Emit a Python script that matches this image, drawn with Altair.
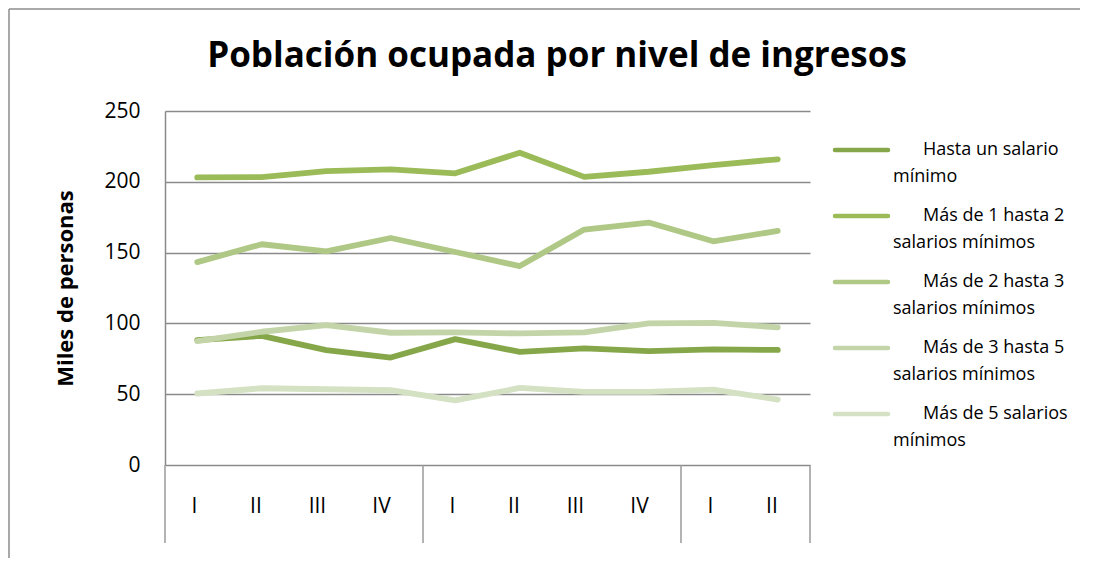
import altair as alt
import pandas as pd

# ---- data ----
quarters = ["I", "II", "III", "IV", "I", "II", "III", "IV", "I", "II"]
groups = [1, 1, 1, 1, 2, 2, 2, 2, 3, 3]

legend_line1 = ["Hasta un salario", "Más de 1 hasta 2", "Más de 2 hasta 3",
                "Más de 3 hasta 5", "Más de 5 salarios"]
legend_line2 = ["mínimo", "salarios mínimos", "salarios mínimos",
                "salarios mínimos", "mínimos"]
series = [a + " " + b for a, b in zip(legend_line1, legend_line2)]
colors = ["#86a749", "#9bbb59", "#afc886", "#c3d5a8", "#d4e1c3"]

hasta_1 = [88.2, 91.2, 81.1, 75.9, 88.9, 79.9, 82.3, 80.4, 81.6, 81.3]
de_1_a_2 = [203.1, 203.3, 207.6, 208.8, 206.0, 220.5, 203.5, 207.1, 211.8, 215.9]
de_2_a_3 = [143.3, 155.9, 150.9, 160.3, 150.4, 140.5, 166.3, 171.2, 158.0, 165.3]
de_3_a_5 = [87.5, 94.1, 98.8, 93.4, 93.6, 92.9, 93.6, 100.0, 100.4, 97.2]
mas_de_5 = [50.5, 54.2, 53.5, 52.8, 45.7, 54.4, 51.6, 51.6, 53.3, 46.2]
series_values = [hasta_1, de_1_a_2, de_2_a_3, de_3_a_5, mas_de_5]

title_text = "Población ocupada por nivel de ingresos"
y_title = "Miles de personas"
y_ticks = [0, 50, 100, 150, 200, 250]

# ---- tables ----
keys = [f"{g}-{q}" for g, q in zip(groups, quarters)]
rows = []
for s, vals in zip(series, series_values):
    for k, v in zip(keys, vals):
        rows.append({"key": k, "serie": s, "valor": v})
df = pd.DataFrame(rows)

leg = pd.DataFrame({"serie": series, "l1": legend_line1, "l2": legend_line2})

group_start = [keys[i] for i in range(len(keys)) if i == 0 or groups[i] != groups[i - 1]]
sep_start = pd.DataFrame({"key": group_start})
sep_end = pd.DataFrame({"key": [keys[-1]]})

FONT = "Open Sans"
W, H = 645, 354

xscale = alt.Scale(type="band", domain=keys, paddingInner=0, paddingOuter=0)
cscale = alt.Scale(domain=series, range=colors)
legy = alt.Scale(type="point", domain=series, range=[39, 303], padding=0)

lines = alt.Chart(df).mark_line(strokeWidth=5.8, strokeCap="round", strokeJoin="round").encode(
    x=alt.X("key:N", scale=xscale, bandPosition=0.5, sort=keys,
            axis=alt.Axis(title=None, labelExpr="split(datum.label, '-')[1]",
                          ticks=False, tickSize=0, domain=False, grid=False,
                          labelAngle=0, labelPadding=41, labelBaseline="middle",
                          labelFont=FONT, labelFontSize=21, labelColor="#000000")),
    y=alt.Y("valor:Q", scale=alt.Scale(domain=[0, 250], nice=False, zero=True),
            axis=alt.Axis(values=y_ticks, title=y_title, titleFont=FONT,
                          titleFontSize=22, titleFontWeight="bold", titleColor="#000000",
                          titleAngle=270, titleX=-100, titleY=177,
                          titleAlign="center", titleBaseline="middle",
                          ticks=False, tickSize=0, labelPadding=25,
                          labelFont=FONT, labelFontSize=21, labelColor="#000000",
                          domainColor="#8a8a8a", domainWidth=1.5,
                          gridColor="#8a8a8a", gridWidth=1.5, gridOpacity=1)),
    color=alt.Color("serie:N", scale=cscale, legend=None),
    detail="serie:N",
)

seps_a = alt.Chart(sep_start).mark_rule(color="#9a9a9a", strokeWidth=1.5).encode(
    x=alt.X("key:N", scale=xscale, bandPosition=0),
    y=alt.value(H), y2=alt.value(H + 78),
)
seps_b = alt.Chart(sep_end).mark_rule(color="#9a9a9a", strokeWidth=1.5).encode(
    x=alt.X("key:N", scale=xscale, bandPosition=1),
    y=alt.value(H), y2=alt.value(H + 78),
)

leg_sym = alt.Chart(leg).mark_rule(strokeWidth=4.5, strokeCap="round").encode(
    x=alt.value(670), x2=alt.value(723),
    y=alt.Y("serie:N", scale=legy, axis=None),
    color=alt.Color("serie:N", scale=cscale, legend=None),
)
leg_t1 = alt.Chart(leg).mark_text(align="left", baseline="middle", font=FONT,
                                  fontSize=18, color="#000000").encode(
    x=alt.value(758), y=alt.Y("serie:N", scale=legy, axis=None), text="l1:N")
leg_t2 = alt.Chart(leg).mark_text(align="left", baseline="middle", font=FONT,
                                  fontSize=18, color="#000000", dy=27).encode(
    x=alt.value(728), y=alt.Y("serie:N", scale=legy, axis=None), text="l2:N")

title = alt.Chart(pd.DataFrame({"t": [title_text]})).mark_text(
    align="center", baseline="alphabetic", font=FONT, fontSize=35,
    fontWeight="bold", color="#000000").encode(
    x=alt.value(392), y=alt.value(-44), text="t:N")

border_top = alt.Chart(pd.DataFrame({"a": [0]})).mark_rule(color="#8c8c8c", strokeWidth=1.5).encode(
    x=alt.value(-156), x2=alt.value(920), y=alt.value(-102))
border_left = alt.Chart(pd.DataFrame({"a": [0]})).mark_rule(color="#8c8c8c", strokeWidth=1.5).encode(
    x=alt.value(-156), y=alt.value(-102), y2=alt.value(460))

chart = alt.layer(
    border_top, border_left, seps_a, seps_b, lines, leg_sym, leg_t1, leg_t2, title
).resolve_scale(y="independent").properties(
    width=W, height=H,
    autosize=alt.AutoSizeParams(type="none"),
    padding={"left": 157, "top": 103, "right": 270, "bottom": 93},
    background="white",
).configure_view(stroke=None)

chart.save("out.html", embed_options={"renderer": "svg", "actions": False})
